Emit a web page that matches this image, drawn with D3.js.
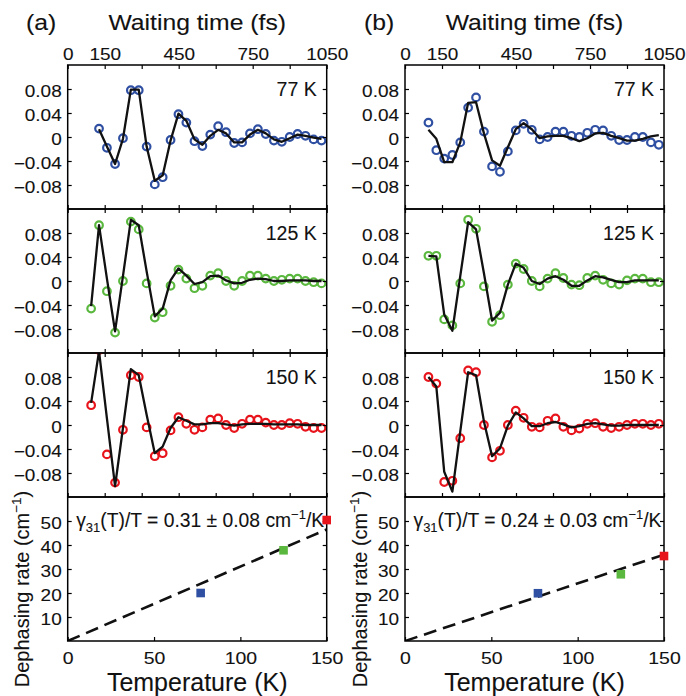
<!DOCTYPE html>
<html><head><meta charset="utf-8">
<script src="https://cdn.jsdelivr.net/npm/d3@7"></script>
<style>
html,body{margin:0;padding:0;background:#fff;}
svg{display:block;font-family:"Liberation Sans",Arial,Helvetica,sans-serif;}
svg text{stroke:#222;stroke-width:0.1px;}
</style></head><body>
<svg id="chart" width="686" height="696"></svg>
<script>
// ---------- data ----------
const times = [95,127,159,192,224,256,288,320,353,385,417,449,481,514,546,578,610,642,675,707,739,771,803,836,868,900,932,964,997,1029];
const temperatures = [77, 125, 150];
const temperatureLabels = ["77 K", "125 K", "150 K"];
// (a) measured and fitted beats
const a77     = [null,0.014,-0.018,-0.045,-0.002,0.078,0.078,-0.016,-0.079,-0.067,-0.005,0.038,0.024,-0.007,-0.015,0.004,0.018,0.008,-0.010,-0.009,0.006,0.013,0.005,-0.006,-0.008,0.000,0.005,0.002,-0.004,-0.006];
const a77fit  = [null,0.013,-0.016,-0.045,-0.003,0.079,0.079,-0.016,-0.073,-0.064,-0.006,0.039,0.027,-0.004,-0.013,0.002,0.012,0.006,-0.009,-0.009,0.004,0.012,0.006,-0.004,-0.008,-0.002,0.004,0.002,-0.001,-0.003];
const a125    = [-0.046,0.093,-0.017,-0.086,0.000,0.099,0.086,-0.004,-0.061,-0.052,-0.008,0.019,0.004,-0.012,-0.008,0.009,0.013,0.000,-0.008,0.000,0.009,0.009,0.004,0.000,0.002,0.004,0.004,0.000,-0.002,-0.004];
const a125fit = [-0.042,0.093,0.004,-0.084,0.008,0.102,0.093,0.016,-0.059,-0.046,0.001,0.021,0.009,-0.005,-0.002,0.008,0.009,0.001,-0.004,-0.003,0.002,0.004,0.003,0.000,0.000,0.001,0.001,0.001,0.000,0.000];
const a150    = [0.033,0.125,-0.049,-0.096,-0.008,0.083,0.080,-0.004,-0.052,-0.047,-0.009,0.013,0.002,-0.008,-0.004,0.009,0.011,0.000,-0.005,0.002,0.009,0.009,0.004,0.000,0.000,0.003,0.002,-0.003,-0.005,-0.005];
const a150fit = [0.037,0.123,0.011,-0.102,-0.005,0.093,0.083,0.017,-0.047,-0.036,-0.005,0.013,0.007,0.001,0.001,0.003,0.003,0.001,-0.001,0.001,0.002,0.002,0.002,0.001,0.001,0.001,0.001,0.000,0.000,0.000];
// (b) measured and fitted beats
const b77     = [0.024,-0.022,-0.036,-0.030,-0.009,0.049,0.066,0.009,-0.049,-0.058,-0.024,0.011,0.022,0.012,-0.004,0.000,0.009,0.009,0.002,0.000,0.007,0.012,0.011,0.002,-0.005,-0.005,0.000,0.000,-0.009,-0.013];
const b77fit  = [0.012,-0.003,-0.042,-0.042,-0.009,0.057,0.058,0.006,-0.039,-0.048,-0.017,0.013,0.023,0.013,-0.002,0.001,0.002,0.002,-0.002,-0.007,-0.002,0.006,0.007,0.002,-0.002,-0.006,-0.006,-0.003,0.001,0.003];
const b125    = [0.042,0.042,-0.064,-0.074,-0.004,0.102,0.087,-0.009,-0.068,-0.057,-0.006,0.029,0.020,0.000,-0.009,0.004,0.013,0.005,-0.006,-0.007,0.005,0.009,0.002,-0.004,-0.006,0.001,0.004,0.004,-0.002,-0.002];
const b125fit = [0.042,0.041,-0.056,-0.083,0.008,0.098,0.086,0.013,-0.066,-0.053,-0.006,0.029,0.022,0.000,-0.005,0.004,0.008,0.002,-0.008,-0.008,0.001,0.008,0.006,0.002,-0.002,-0.002,0.001,0.001,0.001,0.001];
const b150    = [0.080,0.069,-0.095,-0.093,-0.022,0.091,0.088,0.000,-0.054,-0.043,0.000,0.024,0.012,-0.003,-0.004,0.007,0.011,-0.003,-0.009,-0.006,0.002,0.003,-0.003,-0.005,-0.003,0.000,0.002,0.002,0.000,0.002];
const b150fit = [0.080,0.064,-0.078,-0.111,-0.011,0.088,0.083,0.006,-0.052,-0.039,-0.001,0.021,0.011,-0.002,-0.002,0.003,0.005,0.001,-0.004,-0.002,0.002,0.003,0.001,-0.001,-0.001,0.000,0.000,0.000,0.000,0.000];
// dephasing rates
const rateA = [20.0, 37.8, 50.4];
const rateB = [19.9, 27.8, 35.4];
const slopeA = 0.31, errA = 0.08;
const slopeB = 0.24, errB = 0.03;
// ticks
const timeTicks = [0,150,300,450,600,750,900,1050];
const timeTickLabels = ["0","150","","450","","750","","1050"];
const ampTicks = [-0.08,-0.04,0,0.04,0.08];
const ampTickLabels = ["\u22120.08","\u22120.04","0","0.04","0.08"];
const tempTicks = [0,50,100,150];
const tempTickLabels = ["0","50","100","150"];
const rateTicks = [10,20,30,40,50];
const rateTickLabels = ["10","20","30","40","50"];
const colors = ["#2f4fa2","#5bb83f","#e8141c"];

// ---------- drawing ----------
const svg = d3.select("#chart");
const TICK_SX = 1.2;
function stretch(sel, sx){
  sel.each(function(){
    const t = d3.select(this);
    const x = +t.attr("x") || 0;
    t.attr("x", x/sx).attr("transform", `scale(${sx},1)`);
  });
}
function styleAxis(g, fs){
  g.select(".domain").remove();
  g.selectAll(".tick line").attr("stroke","#000").attr("stroke-width",1.2);
  g.selectAll(".tick text").attr("font-size",fs).attr("fill","#111").attr("font-family",null);
}

const columns = [
  {x0:67.7, x1:326.7, tag:"(a)", tagX:26, series:[[a77,a77fit],[a125,a125fit],[a150,a150fit]], rates:rateA, slope:slopeA, err:errA, labX:29},
  {x0:405,  x1:664,   tag:"(b)", tagX:364, series:[[b77,b77fit],[b125,b125fit],[b150,b150fit]], rates:rateB, slope:slopeB, err:errB, labX:367}
];
const panelTops = [65,209,353];
const PH = 144;
const bottomTop = 497;

columns.forEach((c, ci) => {
  const x = d3.scaleLinear().domain([0,1050]).range([c.x0, c.x1]);
  const cx = (c.x0 + c.x1)/2;

  // header
  const tag = svg.append("text").attr("x", c.tagX).attr("y", 30).attr("font-size", 21.5).attr("fill","#111").text(c.tag);
  stretch(tag, 1.15);
  const title = svg.append("text").attr("x", cx).attr("y", 30).attr("font-size", 21.5).attr("fill","#111")
    .attr("text-anchor","middle").text("Waiting time (fs)");
  stretch(title, 1.15);

  c.series.forEach((s, pi) => {
    const top = panelTops[pi];
    const y = d3.scaleLinear().domain([-0.12,0.12]).range([top+PH, top]);
    const clipId = `clip${ci}${pi}`;
    svg.append("clipPath").attr("id", clipId).append("rect")
      .attr("x", c.x0).attr("y", top).attr("width", c.x1-c.x0).attr("height", PH);
    const g = svg.append("g").attr("clip-path", `url(#${clipId})`);
    const pts = times.map((t,i)=>({t, v:s[0][i], f:s[1][i]}));
    g.selectAll("circle").data(pts.filter(d=>d.v!=null)).join("circle")
      .attr("cx", d=>x(d.t)).attr("cy", d=>y(d.v)).attr("r", 3.8)
      .attr("fill","none").attr("stroke", colors[pi]).attr("stroke-width", 2.2);
    g.append("path").datum(pts)
      .attr("d", d3.line().defined(d=>d.f!=null).x(d=>x(d.t)).y(d=>y(d.f)))
      .attr("fill","none").attr("stroke","#111").attr("stroke-width",2.3).attr("stroke-linejoin","round");

    // axes
    const la = svg.append("g").attr("transform",`translate(${c.x0},0)`)
      .call(d3.axisLeft(y).tickValues(ampTicks).tickFormat((d,i)=>ampTickLabels[i]).tickSize(-4).tickPadding(6));
    styleAxis(la, 15.8);
    la.selectAll(".tick text").attr("dy","0.46em");
    stretch(la.selectAll(".tick text"), TICK_SX);
    const ra = svg.append("g").attr("transform",`translate(${c.x1},0)`)
      .call(d3.axisRight(y).tickValues(ampTicks).tickFormat("").tickSize(-4));
    styleAxis(ra, 0);
    const ta = svg.append("g").attr("transform",`translate(0,${top})`)
      .call(d3.axisTop(x).tickValues(timeTicks).tickFormat((d,i)=> pi===0 ? timeTickLabels[i] : "").tickSize(-4).tickPadding(5));
    styleAxis(ta, 15.8);
    stretch(ta.selectAll(".tick text"), TICK_SX);
    const ba = svg.append("g").attr("transform",`translate(0,${top+PH})`)
      .call(d3.axisBottom(x).tickValues(timeTicks).tickFormat("").tickSize(-4));
    styleAxis(ba, 0);

    svg.append("rect").attr("x", c.x0).attr("y", top).attr("width", c.x1-c.x0).attr("height", PH)
      .attr("fill","none").attr("stroke","#000").attr("stroke-width",1.5);

    svg.append("text").attr("x", c.x1-10).attr("y", top+31).attr("text-anchor","end")
      .attr("font-size",19.5).attr("fill","#111").text(temperatureLabels[pi]);
  });

  // bottom panel: dephasing rate vs temperature
  const xt = d3.scaleLinear().domain([0,150]).range([c.x0, c.x1]);
  const yr = d3.scaleLinear().domain([0,60]).range([bottomTop+PH, bottomTop]);
  const bclip = `bclip${ci}`;
  svg.append("clipPath").attr("id", bclip).append("rect")
    .attr("x", c.x0).attr("y", bottomTop).attr("width", c.x1-c.x0).attr("height", PH);
  svg.append("path").datum([0,150]).attr("clip-path",`url(#${bclip})`)
    .attr("d", d3.line().x(d=>xt(d)).y(d=>yr(d*c.slope)))
    .attr("fill","none").attr("stroke","#111").attr("stroke-width",2.6).attr("stroke-dasharray","13,7");

  const lb = svg.append("g").attr("transform",`translate(${c.x0},0)`)
    .call(d3.axisLeft(yr).tickValues(rateTicks).tickFormat((d,i)=>rateTickLabels[i]).tickSize(-4).tickPadding(6));
  styleAxis(lb, 15.8);
  lb.selectAll(".tick text").attr("dy","0.46em");
  stretch(lb.selectAll(".tick text"), TICK_SX);
  const rb = svg.append("g").attr("transform",`translate(${c.x1},0)`)
    .call(d3.axisRight(yr).tickValues(rateTicks).tickFormat("").tickSize(-4));
  styleAxis(rb, 0);
  const bb = svg.append("g").attr("transform",`translate(0,${bottomTop+PH})`)
    .call(d3.axisBottom(xt).tickValues(tempTicks).tickFormat((d,i)=>tempTickLabels[i]).tickSize(-4).tickPadding(12));
  styleAxis(bb, 16.2);
  stretch(bb.selectAll(".tick text"), TICK_SX);

  svg.append("rect").attr("x", c.x0).attr("y", bottomTop).attr("width", c.x1-c.x0).attr("height", PH)
    .attr("fill","none").attr("stroke","#000").attr("stroke-width",1.5);

  const sq = 8.6;
  svg.selectAll(null).data(temperatures.map((t,i)=>({t, r:c.rates[i], col:colors[i]}))).join("rect")
    .attr("x", d=>xt(d.t)-sq/2).attr("y", d=>yr(d.r)-sq/2).attr("width", sq).attr("height", sq)
    .attr("fill", d=>d.col);

  // annotation
  const ann = svg.append("text").attr("x", c.x0 + 8.5).attr("y", bottomTop + 30).attr("font-size", 19.3).attr("fill","#111");
  ann.append("tspan").text("\u03b3");
  ann.append("tspan").attr("font-size", 13).attr("dy", 5).text("31");
  ann.append("tspan").attr("dy", -5).text(`(T)/T = ${c.slope.toFixed(2)} \u00b1 ${c.err.toFixed(2)} cm`);
  ann.append("tspan").attr("font-size", 13).attr("dy", -8).text("\u22121");
  ann.append("tspan").attr("dy", 8).text("/K");

  // axis titles
  svg.append("text").attr("x", cx).attr("y", 691).attr("text-anchor","middle")
    .attr("font-size", 25).attr("fill","#111").text("Temperature (K)");
  const yl = svg.append("text").attr("transform", `translate(${c.labX},589) rotate(-90)`)
    .attr("text-anchor","middle").attr("font-size",20).attr("fill","#111");
  yl.append("tspan").text("Dephasing rate (cm");
  yl.append("tspan").attr("font-size",13.5).attr("dy",-8).text("\u22121");
  yl.append("tspan").attr("dy",8).text(")");
});
</script>
</body></html>
